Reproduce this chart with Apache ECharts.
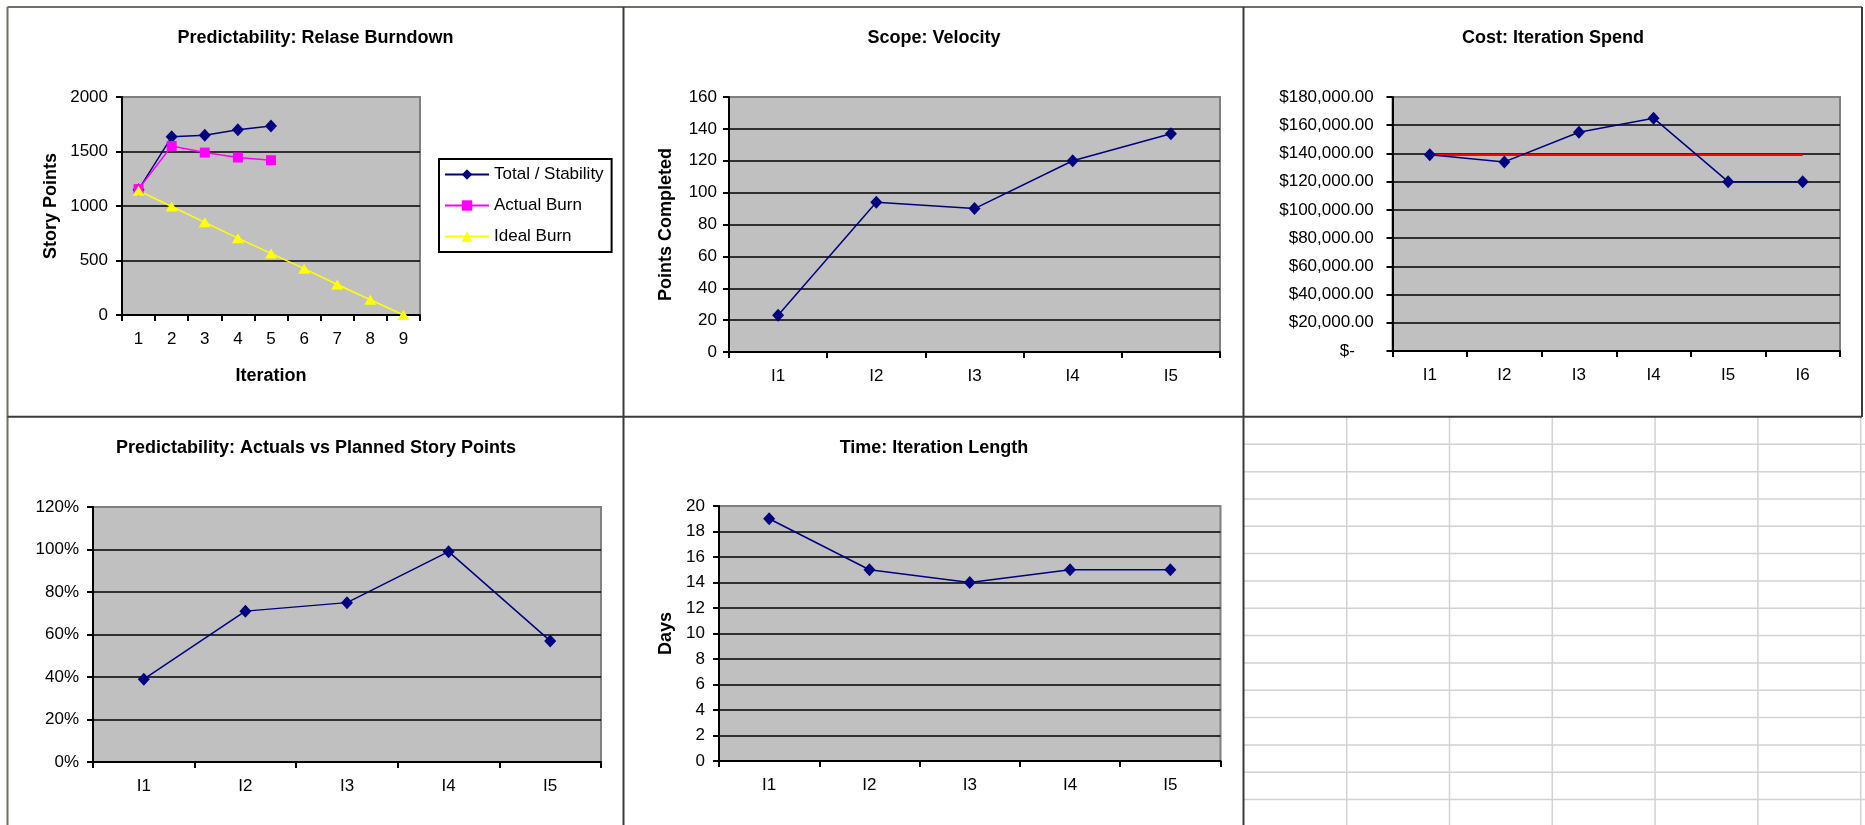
<!DOCTYPE html>
<html>
<head>
<meta charset="utf-8">
<script src="https://cdn.jsdelivr.net/npm/echarts@6/dist/echarts.min.js"></script>
<style>
  html, body { margin: 0; padding: 0; background: #ffffff; }
  #chart { width: 1865px; height: 825px; }
</style>
</head>
<body>
<div id="chart"></div>
<script>
// ---- Release burndown ----
const burnIterations = ['1', '2', '3', '4', '5', '6', '7', '8', '9'];
const burnTotal = [1150, 1635, 1650, 1700, 1735];
const burnActual = [1155, 1550, 1490, 1445, 1420];
const burnIdeal = [1140, 995, 850, 705, 565, 425, 280, 140, 0];

// ---- Iteration metrics ----
const iterations5 = ['I1', 'I2', 'I3', 'I4', 'I5'];
const iterations6 = ['I1', 'I2', 'I3', 'I4', 'I5', 'I6'];
const velocityPoints = [23, 94, 90, 120, 137];
const spendActual = [139000, 134000, 155000, 165000, 120000, 120000];
const spendAverage = [138833, 138833, 138833, 138833, 138833, 138833];
const actualVsPlanned = [0.39, 0.71, 0.75, 0.99, 0.57];
const iterationDays = [19, 15, 14, 15, 15];

const FONT = '"Liberation Sans", Arial, Helvetica, sans-serif';
const NAVY = '#000080';
const DIAMOND = [12, 13];

function plotGrid(left, top, width, height) {
  return {
    left: left, top: top, width: width, height: height,
    show: true, backgroundColor: '#c0c0c0',
    borderColor: '#808080', borderWidth: 2, containLabel: false
  };
}

function categoryAxis(gridIndex, data) {
  return {
    type: 'category', gridIndex: gridIndex, data: data, boundaryGap: true,
    axisLine: { show: true, onZero: false, lineStyle: { color: '#000', width: 2 } },
    axisTick: { show: true, length: 6, alignWithLabel: false, lineStyle: { color: '#000', width: 2 } },
    axisLabel: { color: '#000', fontSize: 17, fontFamily: FONT, margin: 16 },
    splitLine: { show: false }
  };
}

function valueAxis(gridIndex, min, max, interval, formatter, margin) {
  return {
    type: 'value', gridIndex: gridIndex, min: min, max: max, interval: interval,
    axisLine: { show: true, onZero: false, lineStyle: { color: '#000', width: 2 } },
    axisTick: { show: true, length: 6, lineStyle: { color: '#000', width: 2 } },
    axisLabel: {
      color: '#000', fontSize: 17, fontFamily: FONT, margin: margin || 14,
      formatter: formatter || function (v) { return String(v); }
    },
    splitLine: { show: true, showMinLine: false, showMaxLine: false, lineStyle: { color: '#000', width: 1.5 } }
  };
}

function withGroupedThousands(n) {
  const s = Math.round(n).toString();
  return s.replace(/\B(?=(\d{3})+(?!\d))/g, ',');
}

function navySeries(xi, yi, data) {
  return {
    type: 'line', xAxisIndex: xi, yAxisIndex: yi, data: data,
    symbol: 'diamond', symbolSize: DIAMOND, showSymbol: true,
    itemStyle: { color: NAVY }, lineStyle: { color: NAVY, width: 1.5 },
    emphasis: { disabled: true }
  };
}

const axisNameStyle = { color: '#000', fontSize: 18, fontWeight: 'bold', fontFamily: FONT };
const titleStyle = { color: '#000', fontSize: 18, fontWeight: 'bold', fontFamily: FONT };

function panelTitle(text, x, y) {
  return { text: text, left: x, top: y, textAlign: 'center', padding: 0, textStyle: titleStyle };
}

// Panel frames and the empty worksheet cells beside the charts
const frameLines = [];
function addLine(x1, y1, x2, y2, color, width) {
  frameLines.push({
    type: 'line', silent: true, z: 100,
    shape: { x1: x1, y1: y1, x2: x2, y2: y2 },
    style: { stroke: color, lineWidth: width }
  });
}
const cellColor = '#d2d2d2';
for (let x = 1346.7; x < 1866; x += 102.8) addLine(x, 417, x, 825, cellColor, 1.5);
for (let y = 444.3; y < 826; y += 27.33) addLine(1244, y, 1865, y, cellColor, 1.5);
addLine(7.5, 7, 1862, 7, '#6f6f62', 2);
addLine(7.5, 7, 7.5, 825, '#6f6f62', 2);
addLine(623.5, 7, 623.5, 825, '#3a3a3a', 2);
addLine(1243.5, 7, 1243.5, 825, '#3a3a3a', 2);
addLine(1862, 7, 1862, 417, '#3a3a3a', 2);
addLine(7.5, 416.7, 1862, 416.7, '#3a3a3a', 2);

const chart = echarts.init(document.getElementById('chart'), null, { renderer: 'canvas' });

chart.setOption({
  animation: false,
  backgroundColor: '#ffffff',
  title: [
    panelTitle('Predictability: Relase Burndown', 315.5, 29),
    panelTitle('Scope: Velocity', 934, 29),
    panelTitle('Cost: Iteration Spend', 1553, 29),
    panelTitle('Predictability: Actuals vs Planned Story Points', 316, 439),
    panelTitle('Time: Iteration Length', 934, 439)
  ],
  legend: {
    show: true,
    orient: 'vertical',
    left: 439, top: 159,
    padding: [6, 8, 6, 5],
    itemGap: 12,
    itemWidth: 44, itemHeight: 13,
    backgroundColor: '#ffffff',
    borderColor: '#000000', borderWidth: 2,
    selectedMode: false,
    textStyle: { color: '#000', fontSize: 17, fontFamily: FONT, lineHeight: 19 },
    data: ['Total / Stability', 'Actual Burn', 'Ideal Burn']
  },
  grid: [
    plotGrid(122, 97, 298, 218),
    plotGrid(729, 97, 491, 255),
    plotGrid(1392.5, 97, 447.5, 254),
    plotGrid(93, 507, 508, 255),
    plotGrid(719, 506, 501.5, 255)
  ],
  xAxis: [
    Object.assign(categoryAxis(0, burnIterations), {
      name: 'Iteration', nameLocation: 'middle', nameGap: 52, nameTextStyle: axisNameStyle
    }),
    categoryAxis(1, iterations5),
    categoryAxis(2, iterations6),
    categoryAxis(3, iterations5),
    categoryAxis(4, iterations5)
  ],
  yAxis: [
    Object.assign(valueAxis(0, 0, 2000, 500), {
      name: 'Story Points', nameLocation: 'middle', nameRotate: 90, nameGap: 62, nameTextStyle: axisNameStyle
    }),
    Object.assign(valueAxis(1, 0, 160, 20, null, 12), {
      name: 'Points Completed', nameLocation: 'middle', nameRotate: 90, nameGap: 54, nameTextStyle: axisNameStyle
    }),
    valueAxis(2, 0, 180000, 20000, function (v) {
      return v === 0 ? '$-     ' : '$' + withGroupedThousands(v) + '.00 ';
    }, 14),
    valueAxis(3, 0, 1.2, 0.2, function (v) {
      return Math.round(v * 100) + '%';
    }, 14),
    Object.assign(valueAxis(4, 0, 20, 2), {
      name: 'Days', nameLocation: 'middle', nameRotate: 90, nameGap: 44, nameTextStyle: axisNameStyle
    })
  ],
  series: [
    {
      name: 'Total / Stability', type: 'line', xAxisIndex: 0, yAxisIndex: 0, data: burnTotal,
      symbol: 'diamond', symbolSize: DIAMOND,
      itemStyle: { color: NAVY }, lineStyle: { color: NAVY, width: 1.5 }, emphasis: { disabled: true }
    },
    {
      name: 'Actual Burn', type: 'line', xAxisIndex: 0, yAxisIndex: 0, data: burnActual,
      symbol: 'rect', symbolSize: [10, 10],
      itemStyle: { color: '#ff00ff' }, lineStyle: { color: '#ff00ff', width: 1.5 }, emphasis: { disabled: true }
    },
    {
      name: 'Ideal Burn', type: 'line', xAxisIndex: 0, yAxisIndex: 0, data: burnIdeal,
      symbol: 'triangle', symbolSize: [12, 10],
      itemStyle: { color: '#ffff00' }, lineStyle: { color: '#ffff00', width: 1.5 }, emphasis: { disabled: true }
    },
    navySeries(1, 1, velocityPoints),
    {
      name: 'Average Spend', type: 'line', xAxisIndex: 2, yAxisIndex: 2, data: spendAverage,
      symbol: 'none', lineStyle: { color: '#ff0000', width: 2 }, emphasis: { disabled: true }
    },
    navySeries(2, 2, spendActual),
    navySeries(3, 3, actualVsPlanned),
    navySeries(4, 4, iterationDays)
  ],
  graphic: frameLines
});
</script>
</body>
</html>
